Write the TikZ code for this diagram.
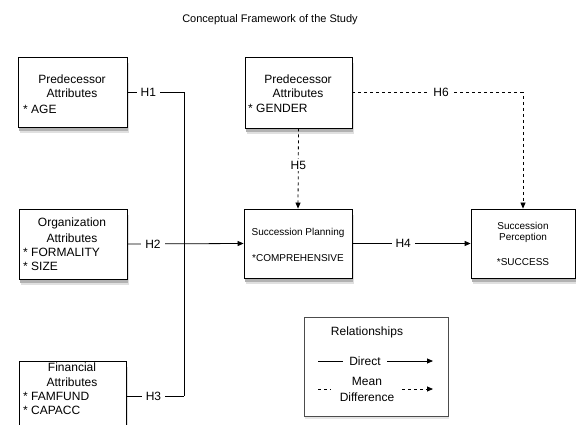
\documentclass[tikz,border=0pt]{standalone}
\usepackage{fontspec}
\setmainfont{Liberation Sans}
\usetikzlibrary{arrows.meta,shadows}
\begin{document}
\begin{tikzpicture}[x=1pt,y=-1pt,
  box/.style={draw, line width=0.8pt, fill=white, inner sep=0pt,
    drop shadow={shadow xshift=1.5pt,shadow yshift=-6pt,opacity=1,fill=black!12},
    drop shadow={shadow xshift=1pt,shadow yshift=-4pt,opacity=1,fill=black!30}},
  legbox/.style={draw=black!70, line width=0.8pt, fill=white, inner sep=0pt,
    drop shadow={shadow xshift=1pt,shadow yshift=-3pt,opacity=1,fill=black!10}},
  txt/.style={inner sep=0pt, font=\fontsize{12}{14}\selectfont},
  stxt/.style={inner sep=0pt, font=\fontsize{10}{12}\selectfont},
  lbl/.style={fill=white, inner xsep=4pt, inner ysep=2pt, font=\fontsize{12}{14}\selectfont},
  conn/.style={line width=0.8pt},
  dconn/.style={line width=0.8pt, dash pattern=on 3pt off 3pt},
  tip/.style={-{Triangle[length=6pt,width=5pt]}}
]
\clip (0,0) rectangle (576,425);
\fill[white] (0,0) rectangle (576,425);

% title
\node[inner sep=0pt, font=\fontsize{11}{13}\selectfont] (title) at (270,20) {Conceptual Framework of the Study};

% boxes
\node[box, minimum width=109pt, minimum height=70pt] (b1) at (72.5,92) {};
\node[box, minimum width=108pt, minimum height=70pt] (b2) at (73,244) {};
\node[box, minimum width=107pt, minimum height=70pt] (b3) at (72.5,396) {};
\node[box, minimum width=107pt, minimum height=71pt] (g) at (298.5,92.5) {};
\node[box, minimum width=108pt, minimum height=69pt] (sp) at (298,243.5) {};
\node[box, minimum width=104pt, minimum height=69pt] (pp) at (523,243.5) {};
\node[legbox, minimum width=144pt, minimum height=99pt] (leg) at (376,366.5) {};

% box texts
\node[txt] (b1t1) at (72,79) {Predecessor};
\node[txt] (b1t2) at (72,93) {Attributes};
\node[txt, anchor=west] (b1t3) at (23,109) {* AGE};

\node[txt] (b2t1) at (72,223) {Organization};
\node[txt] (b2t2) at (72,238) {Attributes};
\node[txt, anchor=west] (b2t3) at (23,252) {* FORMALITY};
\node[txt, anchor=west] (b2t4) at (23,266) {* SIZE};

\node[txt] (b3t1) at (72,367) {Financial};
\node[txt] (b3t2) at (72,382) {Attributes};
\node[txt, anchor=west] (b3t3) at (23,396) {* FAMFUND};
\node[txt, anchor=west] (b3t4) at (23,410) {* CAPACC};

\node[txt] (gt1) at (298,79) {Predecessor};
\node[txt] (gt2) at (298,93) {Attributes};
\node[txt, anchor=west] (gt3) at (248,108) {* GENDER};

\node[stxt] (spt1) at (298,233) {Succession Planning};
\node[stxt] (spt2) at (298,258) {*COMPREHENSIVE};

\node[stxt] (ppt1) at (523,226) {Succession};
\node[stxt] (ppt2) at (523,238) {Perception};
\node[stxt] (ppt3) at (523,262) {*SUCCESS};

% junctions
\coordinate (j1) at (184,92);
\coordinate (j3) at (184,396);
\coordinate (j6) at (pp.north |- g.east);

% connectors
\draw[conn] (b1.east) -- node[lbl,pos=0.37]{H1} (j1) -- (j3);
\draw[conn] (b3.east) -- node[lbl,pos=0.47]{H3} (j3);
\draw[conn,tip] (b2.east) -- node[lbl,pos=0.22]{H2} (sp.west);
\draw[conn,tip] (sp.east) -- node[lbl,pos=0.43]{H4} (pp.west);
\draw[dconn,tip] (g.south) -- node[lbl,pos=0.46]{H5} (sp.north);
\draw[dconn,tip] (g.east) -- node[lbl,pos=0.52]{H6} (j6) -- (pp.north);

% legend
\node[txt] (legt) at (367,332) {Relationships};
\node[txt] (ldir) at (365,361) {Direct};
\node[txt, align=center, font=\fontsize{12}{16}\selectfont] (lmd) at (367,389) {Mean\\Difference};
\coordinate (l1a) at (318,361);
\coordinate (l1b) at (433,361);
\coordinate (l2a) at (318,389);
\coordinate (l2b) at (433,389);
\draw[conn] (l1a) -- (343,361);
\draw[conn,tip] (387,361) -- (l1b);
\draw[dconn] (l2a) -- (331,389);
\draw[dconn,tip] (402,389) -- (l2b);
\end{tikzpicture}
\end{document}
